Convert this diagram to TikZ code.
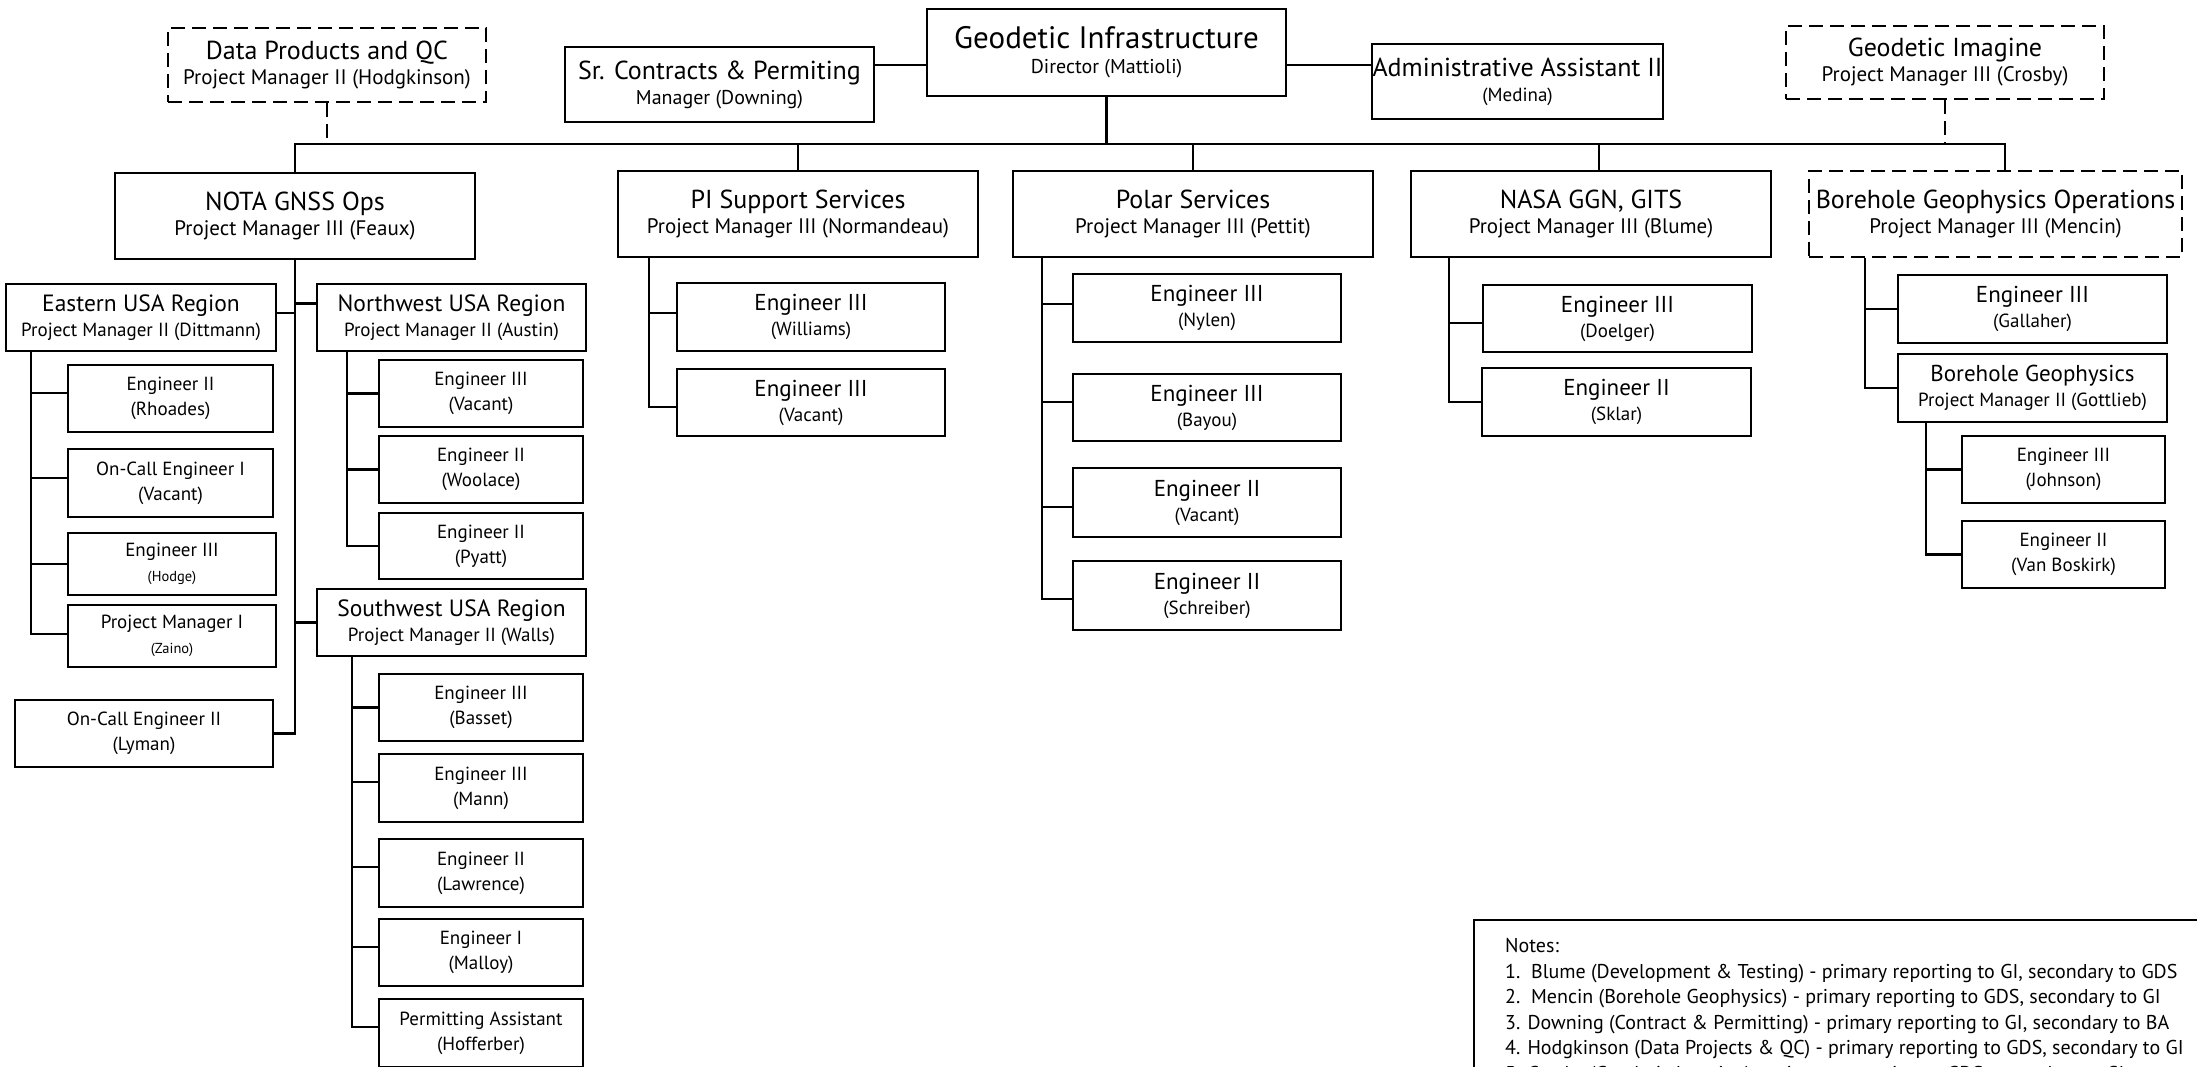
\documentclass[tikz,border=0pt]{standalone}
\usepackage{fontspec}
\setmainfont{PT Sans}
\newcommand\fGI{\fontsize{31}{31}\selectfont}
\newcommand\fMH{\fontsize{26}{26}\selectfont}
\newcommand\fDH{\fontsize{26}{26}\selectfont}
\newcommand\fMS{\fontsize{21}{21}\selectfont}
\newcommand\fMT{\fontsize{20}{20}\selectfont}
\newcommand\fSm{\fontsize{19}{19}\selectfont}
\newcommand\fCH{\fontsize{23}{23}\selectfont}
\newcommand\fCS{\fontsize{19}{19}\selectfont}
\newcommand\fRH{\fontsize{23.5}{23.5}\selectfont}
\newcommand\fRS{\fontsize{19}{19}\selectfont}
\newcommand\fRC{\fontsize{19}{19}\selectfont}
\newcommand\fRT{\fontsize{14.5}{14.5}\selectfont}
\newcommand\fNo{\fontsize{20}{25.6}\selectfont}
\newcommand{\bx}[7][]{\node[box,#1,minimum width={(#5)-(#3)},minimum height={(#6)-(#4)}] (#2) at ({((#3)+(#5))/2},{((#4)+(#6))/2}) {#7};}
\begin{document}
\begin{tikzpicture}[x=1pt,y=-1pt,
  box/.style={draw, line width=2.2pt, inner sep=0pt, align=center, font=\fontsize{20}{25}\selectfont},
  dbox/.style={dash pattern=on 14pt off 7pt},
  conn/.style={line width=2.2pt},
  dline/.style={line width=2.2pt, dash pattern=on 14pt off 7pt}]
\useasboundingbox (0,0) rectangle (2197,1066);
\clip (0,0) rectangle (2197,1066);
\fill[white] (0,0) rectangle (2197,1066);

% top row
\bx[dbox]{dp}{168}{28}{486}{102}{{\fDH Data Products and QC}\\{\fMS Project Manager II (Hodgkinson)}}
\bx{sc}{565}{47}{874}{122}{{\fMH Sr. Contracts \& Permiting}\\{\fMT Manager (Downing)}}
\bx{gi}{927}{9}{1286}{96}{{\fGI Geodetic Infrastructure}\\{\fMT Director (Mattioli)}}
\bx{aa}{1372}{44}{1663}{119}{{\fMH Administrative Assistant II}\\{\fSm (Medina)}}
\bx[dbox]{gim}{1786}{26}{2104}{99}{{\fDH Geodetic Imagine}\\{\fMS Project Manager III (Crosby)}}

% second row
\bx{nota}{115}{173}{475}{259}{{\fMH NOTA GNSS Ops}\\{\fMS Project Manager III (Feaux)}}
\bx{pi}{618}{171}{978}{257}{{\fMH PI Support Services}\\{\fMS Project Manager III (Normandeau)}}
\bx{polar}{1013}{171}{1373}{257}{{\fMH Polar Services}\\{\fMS Project Manager III (Pettit)}}
\bx{nasa}{1411}{171}{1771}{257}{{\fMH NASA GGN, GITS}\\{\fMS Project Manager III (Blume)}}
\bx[dbox]{bho}{1809}{171}{2182}{257}{{\fMH Borehole Geophysics Operations}\\{\fMS Project Manager III (Mencin)}}

% regions
\bx{east}{6}{284}{276}{351}{{\fRH Eastern USA Region}\\{\fRS Project Manager II (Dittmann)}}
\bx{nw}{317}{284}{586}{351}{{\fRH Northwest USA Region}\\{\fRS Project Manager II (Austin)}}
\bx{sw}{317}{589}{586}{656}{{\fRH Southwest USA Region}\\{\fRS Project Manager II (Walls)}}
\bx{lym}{15}{700}{273}{767}{{\fRC On-Call Engineer II}\\{\fRC (Lyman)}}
\bx{rho}{68}{365}{273}{432}{{\fRC Engineer II}\\{\fRC (Rhoades)}}
\bx{oc1}{68}{449}{273}{517}{{\fRC On-Call Engineer I}\\{\fRC (Vacant)}}
\bx{hod}{68}{533}{276}{595}{{\fRC Engineer III}\\{\fRT (Hodge)}}
\bx{zai}{68}{605}{276}{667}{{\fRC Project Manager I}\\{\fRT (Zaino)}}
\bx{nw1}{379}{360}{583}{427}{{\fRC Engineer III}\\{\fRC (Vacant)}}
\bx{nw2}{379}{436}{583}{503}{{\fRC Engineer II}\\{\fRC (Woolace)}}
\bx{nw3}{379}{513}{583}{579}{{\fRC Engineer II}\\{\fRC (Pyatt)}}
\bx{sw1}{379}{674}{583}{741}{{\fRC Engineer III}\\{\fRC (Basset)}}
\bx{sw2}{379}{754}{583}{822}{{\fRC Engineer III}\\{\fRC (Mann)}}
\bx{sw3}{379}{839}{583}{907}{{\fRC Engineer II}\\{\fRC (Lawrence)}}
\bx{sw4}{379}{919}{583}{986}{{\fRC Engineer I}\\{\fRC (Malloy)}}
\bx{sw5}{379}{999}{583}{1067}{{\fRC Permitting Assistant}\\{\fRC (Hofferber)}}

% PI
\bx{pi1}{677}{283}{945}{351}{{\fCH Engineer III}\\{\fCS (Williams)}}
\bx{pi2}{677}{369}{945}{436}{{\fCH Engineer III}\\{\fCS (Vacant)}}
% Polar
\bx{po1}{1073}{274}{1341}{342}{{\fCH Engineer III}\\{\fCS (Nylen)}}
\bx{po2}{1073}{374}{1341}{441}{{\fCH Engineer III}\\{\fCS (Bayou)}}
\bx{po3}{1073}{468}{1341}{537}{{\fCH Engineer II}\\{\fCS (Vacant)}}
\bx{po4}{1073}{561}{1341}{630}{{\fCH Engineer II}\\{\fCS (Schreiber)}}
% NASA
\bx{na1}{1483}{285}{1752}{352}{{\fCH Engineer III}\\{\fCS (Doelger)}}
\bx{na2}{1482}{368}{1751}{436}{{\fCH Engineer II}\\{\fCS (Sklar)}}
% Borehole
\bx{bh1}{1898}{275}{2167}{343}{{\fCH Engineer III}\\{\fCS (Gallaher)}}
\bx{bh2}{1898}{354}{2167}{422}{{\fCH Borehole Geophysics}\\{\fRS Project Manager II (Gottlieb)}}
\bx{bh3}{1962}{436}{2165}{503}{{\fRC Engineer III}\\{\fRC (Johnson)}}
\bx{bh4}{1962}{521}{2165}{588}{{\fRC Engineer II}\\{\fRC (Van Boskirk)}}

% top connectors
\coordinate (bus) at (1106,144);
\draw[conn] ([yshift=-12.5pt]gi.west) -- ([yshift=-12.5pt]gi.west -| sc.east);
\draw[conn] ([yshift=-12.5pt]gi.east) -- ([yshift=-12.5pt]gi.east -| aa.west);
\draw[conn] (gi.south) -- (gi.south |- bus);
\draw[conn] (nota.north) |- ([xshift=9.5pt]bho.north |- bus) -- ([xshift=9.5pt]bho.north);
\draw[conn] (pi.north) -- (pi.north |- bus);
\draw[conn] (polar.north) -- (polar.north |- bus);
\draw[conn] ([xshift=8pt]nasa.north) -- ([xshift=8pt]nasa.north |- bus);
\draw[dline] (dp.south) -- (dp.south |- bus);
\draw[dline] (gim.south) -- (gim.south |- bus);

% NOTA
\draw[conn] (nota.south) |- (lym.east);
\draw[conn] ([yshift=4.5pt]east.east) -- ([yshift=4.5pt]east.east -| nota.south);
\draw[conn] ([yshift=14pt]nw.west) -- ([yshift=14pt]nw.west -| nota.south);
\draw[conn] (sw.west) -- (sw.west -| nota.south);

\coordinate (es) at ([xshift=26pt]east.south west);
\draw[conn] (es) |- ([yshift=2pt]zai.west);
\foreach \n/\s in {rho/5.5, oc1/5, hod/0}
  \draw[conn] ([yshift=\s pt]\n.west) -- ([yshift=\s pt]\n.west -| es);

\coordinate (nws) at ([xshift=31pt]nw.south west);
\draw[conn] (nws) |- (nw3.west);
\foreach \n in {nw1, nw2}
  \draw[conn] (\n.west) -- (\n.west -| nws);

\coordinate (sws) at ([xshift=36pt]sw.south west);
\draw[conn] (sws) |- ([yshift=6pt]sw5.west);
\foreach \n/\s in {sw1/0, sw2/6, sw3/6, sw4/5.5}
  \draw[conn] ([yshift=\s pt]\n.west) -- ([yshift=\s pt]\n.west -| sws);

% PI
\coordinate (pis) at ([xshift=32pt]pi.south west);
\draw[conn] (pis) |- ([yshift=-4.5pt]pi2.west);
\draw[conn] ([yshift=4pt]pi1.west) -- ([yshift=4pt]pi1.west -| pis);

% Polar
\coordinate (pos) at ([xshift=30pt]polar.south west);
\draw[conn] (pos) |- ([yshift=-3.5pt]po4.west);
\foreach \n/\s in {po1/4, po2/5.5, po3/-4.5}
  \draw[conn] ([yshift=\s pt]\n.west) -- ([yshift=\s pt]\n.west -| pos);

% NASA
\coordinate (nas) at ([xshift=39pt]nasa.south west);
\draw[conn] (nas) |- (na2.west);
\draw[conn] ([yshift=-4.5pt]na1.west) -- ([yshift=-4.5pt]na1.west -| nas);

% Borehole
\coordinate (bhs) at ([xshift=57pt]bho.south west);
\draw[conn] (bhs) |- (bh2.west);
\draw[conn] (bh1.west) -- (bh1.west -| bhs);
\coordinate (bgs) at ([xshift=29pt]bh2.south west);
\draw[conn] (bgs) |- (bh4.west);
\draw[conn] (bh3.west) -- (bh3.west -| bgs);

% Notes
\node[draw, line width=2.2pt, anchor=north west, inner sep=0pt, minimum width=800, minimum height=220] (nbox) at (1473,919) {};
\node[anchor=north west, align=left, inner sep=0pt, font=\fNo] (notes) at (1505,938) {Notes:\\
1.\ \ Blume (Development \& Testing) - primary reporting to GI, secondary to GDS\\
2.\ \ Mencin (Borehole Geophysics) - primary reporting to GDS, secondary to GI\\
3. Downing (Contract \& Permitting) - primary reporting to GI, secondary to BA\\
4. Hodgkinson (Data Projects \& QC) - primary reporting to GDS, secondary to GI\\
5. Crosby (Geodetic Imaging) - primary reporting to GDS, secondary to GI};
\end{tikzpicture}
\end{document}
